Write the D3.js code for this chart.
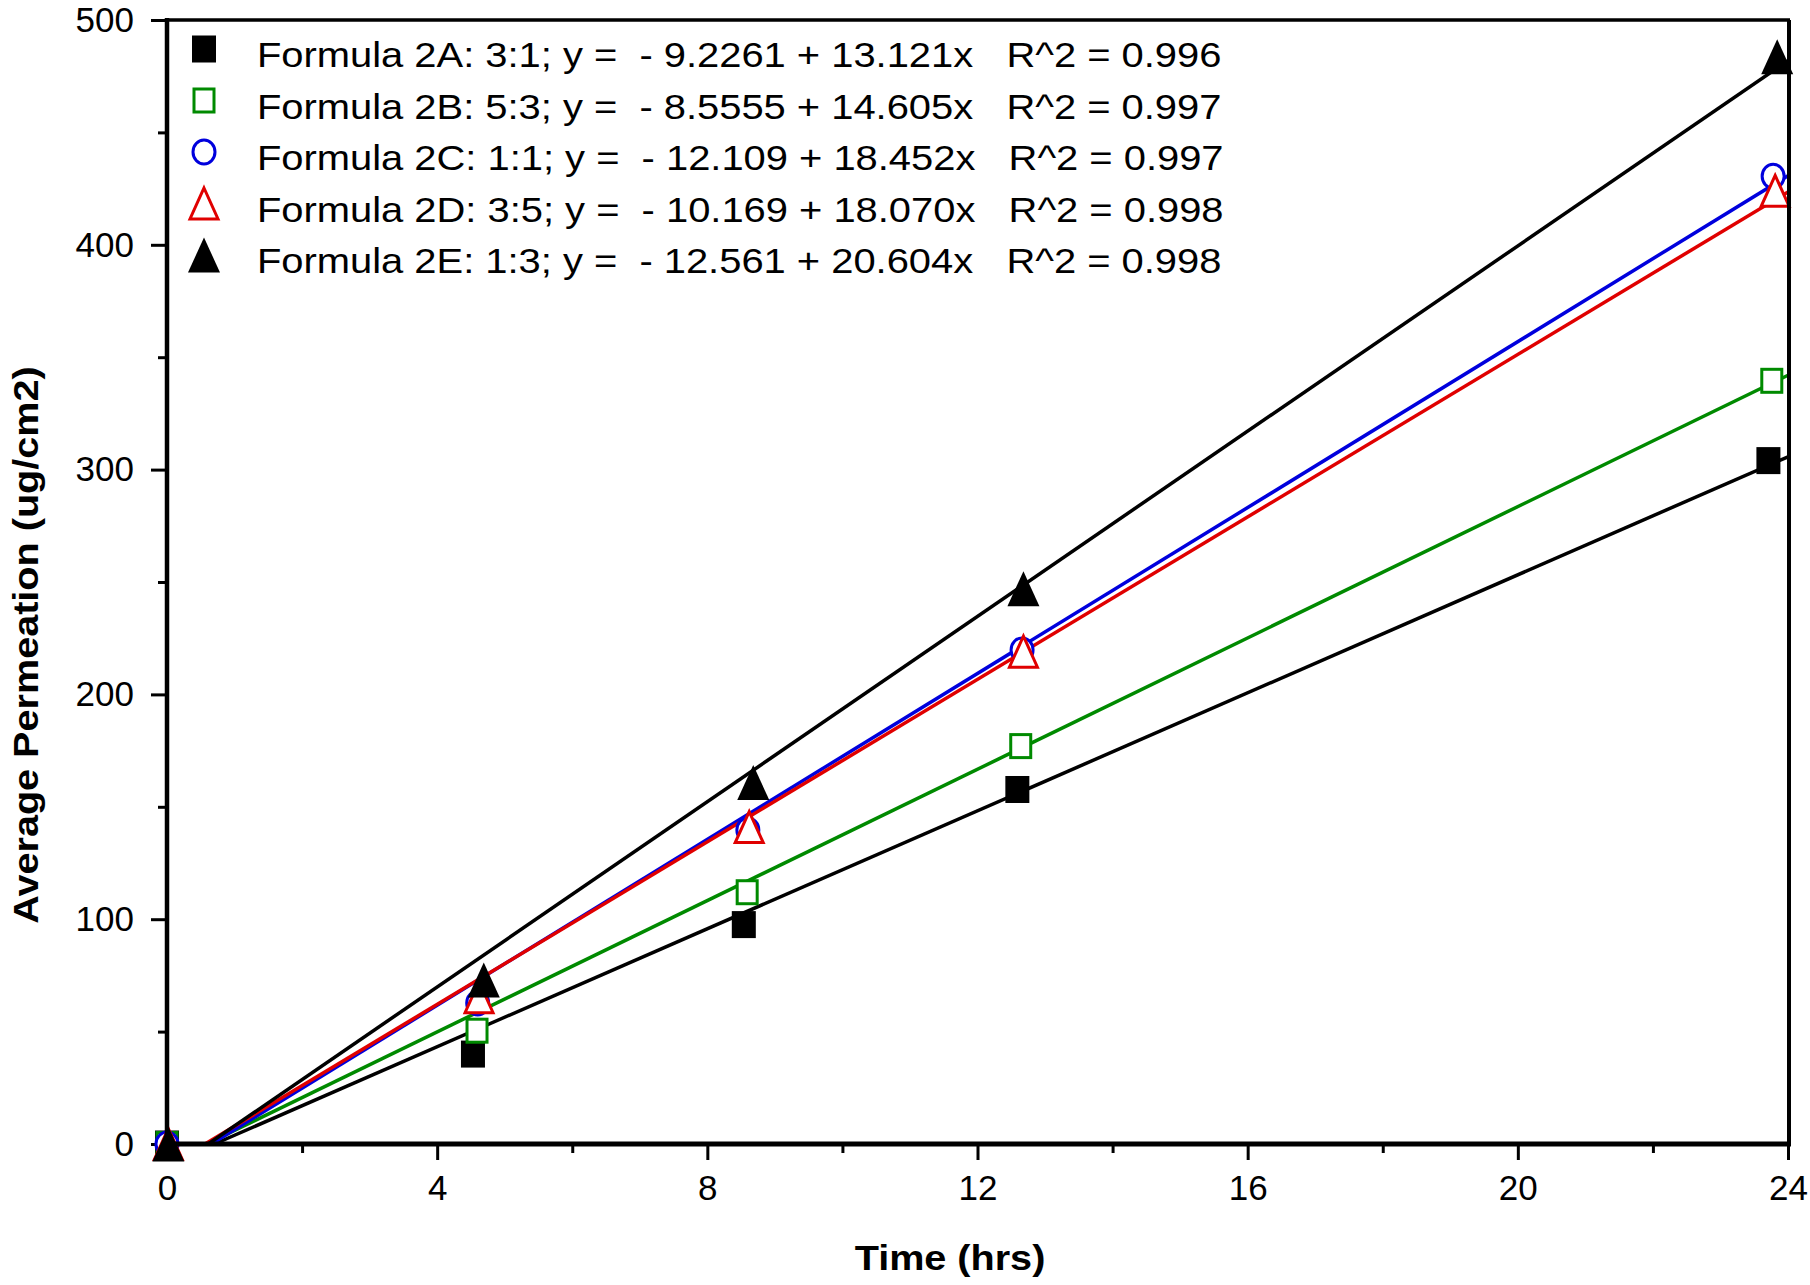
<!DOCTYPE html>
<html>
<head>
<meta charset="utf-8">
<script src="https://cdn.jsdelivr.net/npm/d3@7"></script>
<style>
    body { margin: 0; background: #fff; }
    svg text { font-family: "Liberation Sans", Arial, sans-serif; }
</style>
</head>
<body>
<svg id="chart" width="1810" height="1285"></svg>
<script>
'use strict';

// chart values
const seriesNames = ['Formula 2A: 3:1', 'Formula 2B: 5:3', 'Formula 2C: 1:1', 'Formula 2D: 3:5', 'Formula 2E: 1:3'];
const intercepts = [-9.2261, -8.5555, -12.109, -10.169, -12.561];
const slopes = [13.121, 14.605, 18.452, 18.070, 20.604];
const rSquared = ['0.996', '0.997', '0.997', '0.998', '0.998'];

const times2A = [0, 4.53, 8.54, 12.59, 23.71];
const values2A = [0, 40, 97.6, 157.7, 304];
const times2B = [0, 4.59, 8.59, 12.64, 23.76];
const values2B = [0, 50.4, 112, 177, 339.5];
const times2C = [0, 4.6, 8.6, 12.66, 23.78];
const values2C = [0, 62.7, 139.7, 219.8, 430.5];
const times2D = [0.02, 4.62, 8.62, 12.68, 23.81];
const values2D = [0, 65.3, 141, 219, 424];
const times2E = [0.02, 4.69, 8.68, 12.68, 23.84];
const values2E = [0, 73, 160.8, 247, 483.7];

const xMajorTicks = [0, 4, 8, 12, 16, 20, 24];
const xMinorTicks = [2, 6, 10, 14, 18, 22];
const yMajorTicks = [0, 100, 200, 300, 400, 500];
const yMinorTicks = [50, 150, 250, 350, 450];

const LEFT = 167;
const RIGHT = 1788;
const TOP = 20;
const BOTTOM = 1144;
const TEXT_STRETCH = 1.14;

const styles = [
    {marker: 'square', color: '#000', fill: '#000'},
    {marker: 'square', color: '#008a00', fill: '#fff'},
    {marker: 'circle', color: '#0000dd', fill: '#fff'},
    {marker: 'triangle', color: '#e00000', fill: '#fff'},
    {marker: 'triangle', color: '#000', fill: '#000'}
];

const series = [
    [times2A, values2A], [times2B, values2B], [times2C, values2C],
    [times2D, values2D], [times2E, values2E]
].map(([t, v], i) => ({
    name: seriesNames[i],
    a: intercepts[i],
    b: slopes[i],
    r2: rSquared[i],
    style: styles[i],
    points: t.map((time, j) => ({time, value: v[j]}))
}));

const svg = d3.select('#chart');

const x = d3.scaleLinear().domain([0, 24]).range([LEFT, RIGHT]);
const y = d3.scaleLinear().domain([0, 500]).range([BOTTOM, TOP]);

function drawMarker(g, style) {
    const open = style.fill === '#fff';
    if (style.marker === 'square') {
        const w = open ? 20 : 24, h = open ? 23 : 27;
        g.append('rect')
            .attr('x', -w / 2).attr('y', -h / 2)
            .attr('width', w).attr('height', h)
            .attr('fill', style.fill)
            .attr('stroke', open ? style.color : 'none')
            .attr('stroke-width', 3);
    } else if (style.marker === 'circle') {
        g.append('ellipse')
            .attr('rx', 11).attr('ry', 12)
            .attr('fill', style.fill)
            .attr('stroke', style.color)
            .attr('stroke-width', 3);
    } else {
        const w = open ? 28 : 32, h = open ? 31 : 35;
        g.append('path')
            .attr('d', `M0,${-h / 2}L${w / 2},${h / 2}L${-w / 2},${h / 2}Z`)
            .attr('fill', style.fill)
            .attr('stroke', open ? style.color : 'none')
            .attr('stroke-width', 3)
            .attr('stroke-linejoin', 'miter');
    }
}

// axes
const xAxisMajor = d3.axisBottom(x).tickValues(xMajorTicks).tickSize(16).tickPadding(15);
const xAxisMinor = d3.axisBottom(x).tickValues(xMinorTicks).tickSize(9).tickFormat('');
const yAxisMajor = d3.axisLeft(y).tickValues(yMajorTicks).tickSize(16).tickPadding(17);
const yAxisMinor = d3.axisLeft(y).tickValues(yMinorTicks).tickSize(9).tickFormat('');

[
    [xAxisMajor, `translate(0,${BOTTOM})`],
    [xAxisMinor, `translate(0,${BOTTOM})`],
    [yAxisMajor, `translate(${LEFT},0)`],
    [yAxisMinor, `translate(${LEFT},0)`]
].forEach(([axis, transform]) => {
    const g = svg.append('g').attr('transform', transform).call(axis);
    g.select('.domain').remove();
    g.selectAll('.tick line').attr('stroke', '#000').attr('stroke-width', 3);
    g.selectAll('.tick text')
        .attr('fill', '#000')
        .style('font-size', '35px');
});

// regression lines and points
const plot = svg.append('g');

series.forEach((s) => {
    const t0 = Math.max(0, -s.a / s.b);
    plot.append('line')
        .attr('x1', x(t0)).attr('y1', y(s.a + s.b * t0))
        .attr('x2', x(24)).attr('y2', y(s.a + s.b * 24))
        .attr('stroke', s.style.color)
        .attr('stroke-width', 3.5);
});

series.forEach((s) => {
    plot.selectAll(null)
        .data(s.points)
        .enter()
        .append('g')
        .attr('transform', (d) => `translate(${x(d.time)},${y(d.value)})`)
        .each(function () { drawMarker(d3.select(this), s.style); });
});

// frame
svg.append('line').attr('x1', LEFT).attr('x2', RIGHT + 2).attr('y1', TOP).attr('y2', TOP)
    .attr('stroke', '#000').attr('stroke-width', 3.5);
svg.append('line').attr('x1', RIGHT + 1).attr('x2', RIGHT + 1).attr('y1', TOP).attr('y2', BOTTOM)
    .attr('stroke', '#000').attr('stroke-width', 4);
svg.append('line').attr('x1', LEFT).attr('x2', LEFT).attr('y1', TOP - 2).attr('y2', BOTTOM + 2)
    .attr('stroke', '#000').attr('stroke-width', 4.5);
svg.append('line').attr('x1', LEFT - 2).attr('x2', RIGHT + 3).attr('y1', BOTTOM).attr('y2', BOTTOM)
    .attr('stroke', '#000').attr('stroke-width', 5);

// legend
const legend = svg.append('g');
series.forEach((s, i) => {
    const row = legend.append('g').attr('transform', `translate(204,${49 + i * 51.5})`);
    drawMarker(row, s.style);
    const sign = s.a < 0 ? '- ' : '+ ';
    row.append('text')
        .attr('transform', `translate(53,18) scale(${TEXT_STRETCH},1)`)
        .style('font-size', '35px')
        .style('white-space', 'pre')
        .text(`${s.name}; y =  ${sign}${Math.abs(s.a)} + ${s.b.toFixed(3)}x   R^2 = ${s.r2}`);
});

// axis titles
svg.append('text')
    .attr('transform', 'translate(38,645) rotate(-90) scale(1.1,1)')
    .attr('text-anchor', 'middle')
    .style('font-size', '36px')
    .style('font-weight', 'bold')
    .text('Average Permeation (ug/cm2)');

svg.append('text')
    .attr('transform', 'translate(950,1270) scale(1.1,1)')
    .attr('text-anchor', 'middle')
    .style('font-size', '36px')
    .style('font-weight', 'bold')
    .text('Time (hrs)');
</script>
</body>
</html>
